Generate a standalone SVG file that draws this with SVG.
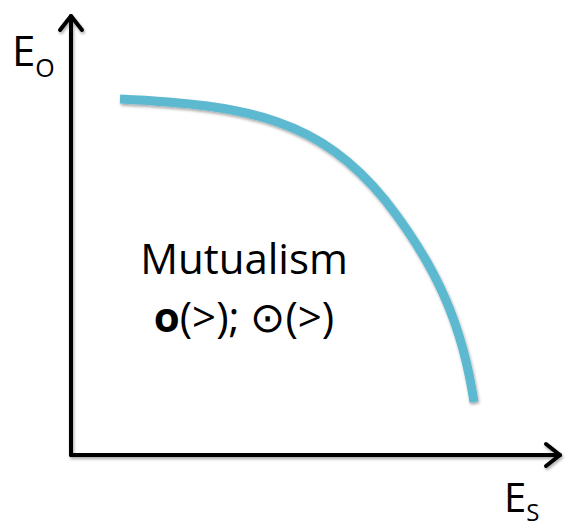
<svg xmlns="http://www.w3.org/2000/svg" width="567" height="529" viewBox="0 0 567 529">
<defs>
<filter id="sh" x="-10%" y="-10%" width="120%" height="120%">
<feGaussianBlur in="SourceAlpha" stdDeviation="1.5"/>
<feOffset dx="1" dy="2" result="b"/>
<feComponentTransfer><feFuncA type="linear" slope="0.35"/></feComponentTransfer>
<feMerge><feMergeNode/><feMergeNode in="SourceGraphic"/></feMerge>
</filter>
</defs>
<style>
.ax{fill:none;stroke:#000;stroke-width:4;stroke-linecap:round;stroke-linejoin:round}
.t{font-family:"Open Sans","Liberation Sans",sans-serif;fill:#000}
</style>
<rect width="567" height="529" fill="#fff"/>
<g id="connectors" filter="url(#sh)">
<path class="ax" d="M71,455 V16"/>
<path class="ax" d="M60,30 L71,16 L82,30"/>
<path class="ax" d="M71,455 H560"/>
<path class="ax" d="M546,444 L560,455 L546,466"/>
</g>
<g id="curve" filter="url(#sh)">
<path d="M120,99 C250,105 320,120 385,200 C440,270 463,330 474,402" fill="none" stroke="#5bb9d0" stroke-width="9"/>
</g>
<g id="label-eo">
<text class="t" x="12" y="66" font-size="42">E<tspan font-size="25" dy="11">O</tspan></text>
</g>
<g id="label-es">
<text class="t" x="504" y="512" font-size="40">E<tspan font-size="24" dy="9">S</tspan></text>
</g>
<g id="mutualism">
<text class="t" x="244" y="274" font-size="42" text-anchor="middle">Mutualism</text>
<text class="t" x="244" y="332" font-size="42" text-anchor="middle"><tspan font-weight="bold">o</tspan>(&gt;); ⊙(&gt;)</text>
</g>
</svg>
